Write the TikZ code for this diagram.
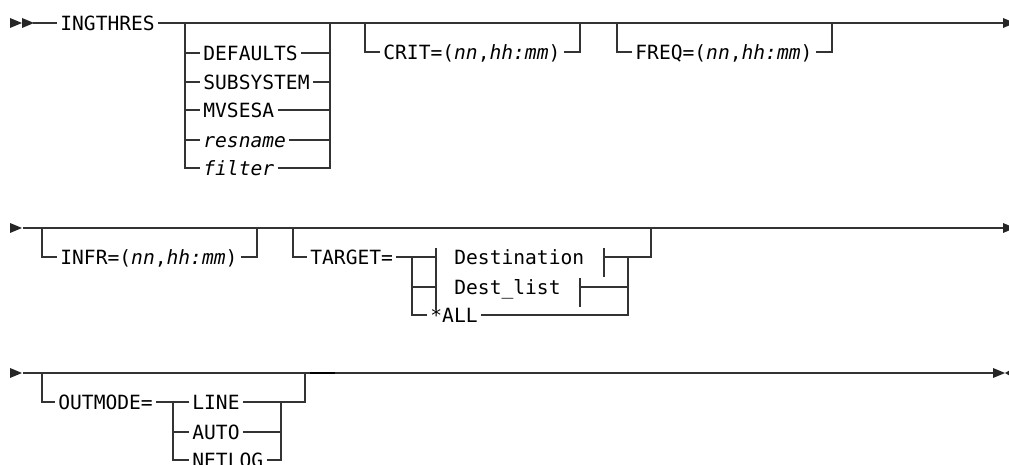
\documentclass[tikz,border=0pt]{standalone}
\usepackage{fontspec}
\setmonofont{DejaVu Sans Mono}
\tikzset{
  rail/.style     = {line width=0.8pt, draw=black!80},
  kw/.style       = {anchor=west, inner xsep=1.5pt, inner ysep=0pt,
                     text height=7.2pt, text depth=0pt,
                     font=\ttfamily\fontsize{9.8}{12}\selectfont},
  var/.style      = {kw, font=\ttfamily\itshape\fontsize{9.8}{12}\selectfont},
  headfill/.style = {fill=black!85},
}
\begin{document}
\begin{tikzpicture}[x=0.5pt, y=-0.5pt]
  \useasboundingbox (0,0) rectangle (1009,465);

  % row 1
  \coordinate (r1s) at (33,23);
  \coordinate (r1e) at (1003,23);
  \coordinate (g1L) at (185,23);
  \coordinate (g1R) at (330,23);
  \coordinate (crL) at (365,23);
  \coordinate (crR) at (580,23);
  \coordinate (fqL) at (617,23);
  \coordinate (fqR) at (832,23);
  \fill[headfill] (10,18) -- (22,23) -- (10,28) -- cycle;
  \fill[headfill] (22,18) -- (34,23) -- (22,28) -- cycle;
  \fill[headfill] (r1e) ++(0,-5) -- ++(12,5) -- ++(-12,5) -- cycle;

  \node[kw]  (ingthres) at (57,23)  {INGTHRES};
  \node[kw]  (dflt)     at (200,53)  {DEFAULTS};
  \node[kw]  (subs)     at (200,82)  {SUBSYSTEM};
  \node[kw]  (mvs)      at (200,110) {MVSESA};
  \node[var] (resn)     at (200,140) {resname};
  \node[var] (filt)     at (200,168) {filter};
  \node[kw]  (crit)     at (380,52)  {CRIT=(\textit{nn},\textit{hh:mm})};
  \node[kw]  (freq)     at (632,52)  {FREQ=(\textit{nn},\textit{hh:mm})};

  \draw[rail] (r1s) -- (ingthres.west);
  \draw[rail] (ingthres.east) -- (r1e);
  \foreach \n in {dflt,subs,mvs,resn,filt}
    \draw[rail] (g1L) |- (\n.west) (\n.east) -| (g1R);
  \draw[rail] (crL) |- (crit.west) (crit.east) -| (crR);
  \draw[rail] (fqL) |- (freq.west) (freq.east) -| (fqR);

  % row 2
  \coordinate (r2s) at (23,228);
  \coordinate (r2e) at (1003,228);
  \coordinate (ifL) at (42,228);
  \coordinate (ifR) at (257,228);
  \coordinate (tgL) at (293,228);
  \coordinate (tgR) at (651,228);
  \coordinate (sbL) at (412,257);
  \coordinate (sbR) at (628,257);
  \coordinate (dsL) at (436,257);
  \coordinate (dsR) at (604,257);
  \coordinate (dlL) at (436,287);
  \coordinate (dlR) at (580,287);
  \fill[headfill] (10,223) -- (22,228) -- (10,233) -- cycle;
  \fill[headfill] (r2e) ++(0,-5) -- ++(12,5) -- ++(-12,5) -- cycle;

  \node[kw] (infr)   at (57,257)  {INFR=(\textit{nn},\textit{hh:mm})};
  \node[kw] (target) at (307,257) {TARGET=};
  \node[kw] (dest)   at (451,257) {Destination};
  \node[kw] (dlist)  at (451,287) {Dest\_list};
  \node[kw] (tgall)  at (427,315) {*ALL};

  \draw[rail] (r2s) -- (r2e);
  \draw[rail] (ifL) |- (infr.west) (infr.east) -| (ifR);
  \draw[rail] (tgL) |- (target.west) (target.east) -- (sbL);
  \draw[rail] (sbL) -- (dsL) (dsR) -- (sbR) -| (tgR);
  \draw[rail] (sbL) |- (dlL) (dlR) -| (sbR);
  \draw[rail] (sbL) |- (tgall.west) (tgall.east) -| (sbR);
  \draw[rail] (dsL) ++(0,-9) -- ++(0,62);
  \draw[rail] (dsR) ++(0,-9) -- ++(0,29);
  \draw[rail] (dlR) ++(0,-9) -- ++(0,29);

  % row 3
  \coordinate (r3s) at (23,373);
  \coordinate (r3e) at (993,373);
  \coordinate (omL) at (42,373);
  \coordinate (omR) at (305,373);
  \coordinate (smL) at (173,402);
  \coordinate (smR) at (281,402);
  \coordinate (dk1) at (310,373);
  \coordinate (dk2) at (335,373);
  \fill[headfill] (10,368) -- (22,373) -- (10,378) -- cycle;
  \fill[headfill] (r3e) ++(0,-5) -- ++(12,5) -- ++(-12,5) -- cycle;
  \fill[headfill] (1005,373) -- (1012,369) -- (1012,377) -- cycle;

  \node[kw] (outmode)  at (55,402)  {OUTMODE=};
  \node[kw] (omline)   at (189,402) {LINE};
  \node[kw] (omauto)   at (189,432) {AUTO};
  \node[kw] (omnetlog) at (189,460) {NETLOG};

  \draw[rail] (r3s) -- (r3e);
  \draw[rail, line width=1.1pt, draw=black] (dk1) -- (dk2);
  \draw[rail] (omL) |- (outmode.west) (outmode.east) -- (smL);
  \foreach \n in {omline,omauto,omnetlog}
    \draw[rail] (smL) |- (\n.west) (\n.east) -| (smR);
  \draw[rail] (smR) -| (omR);
\end{tikzpicture}
\end{document}
